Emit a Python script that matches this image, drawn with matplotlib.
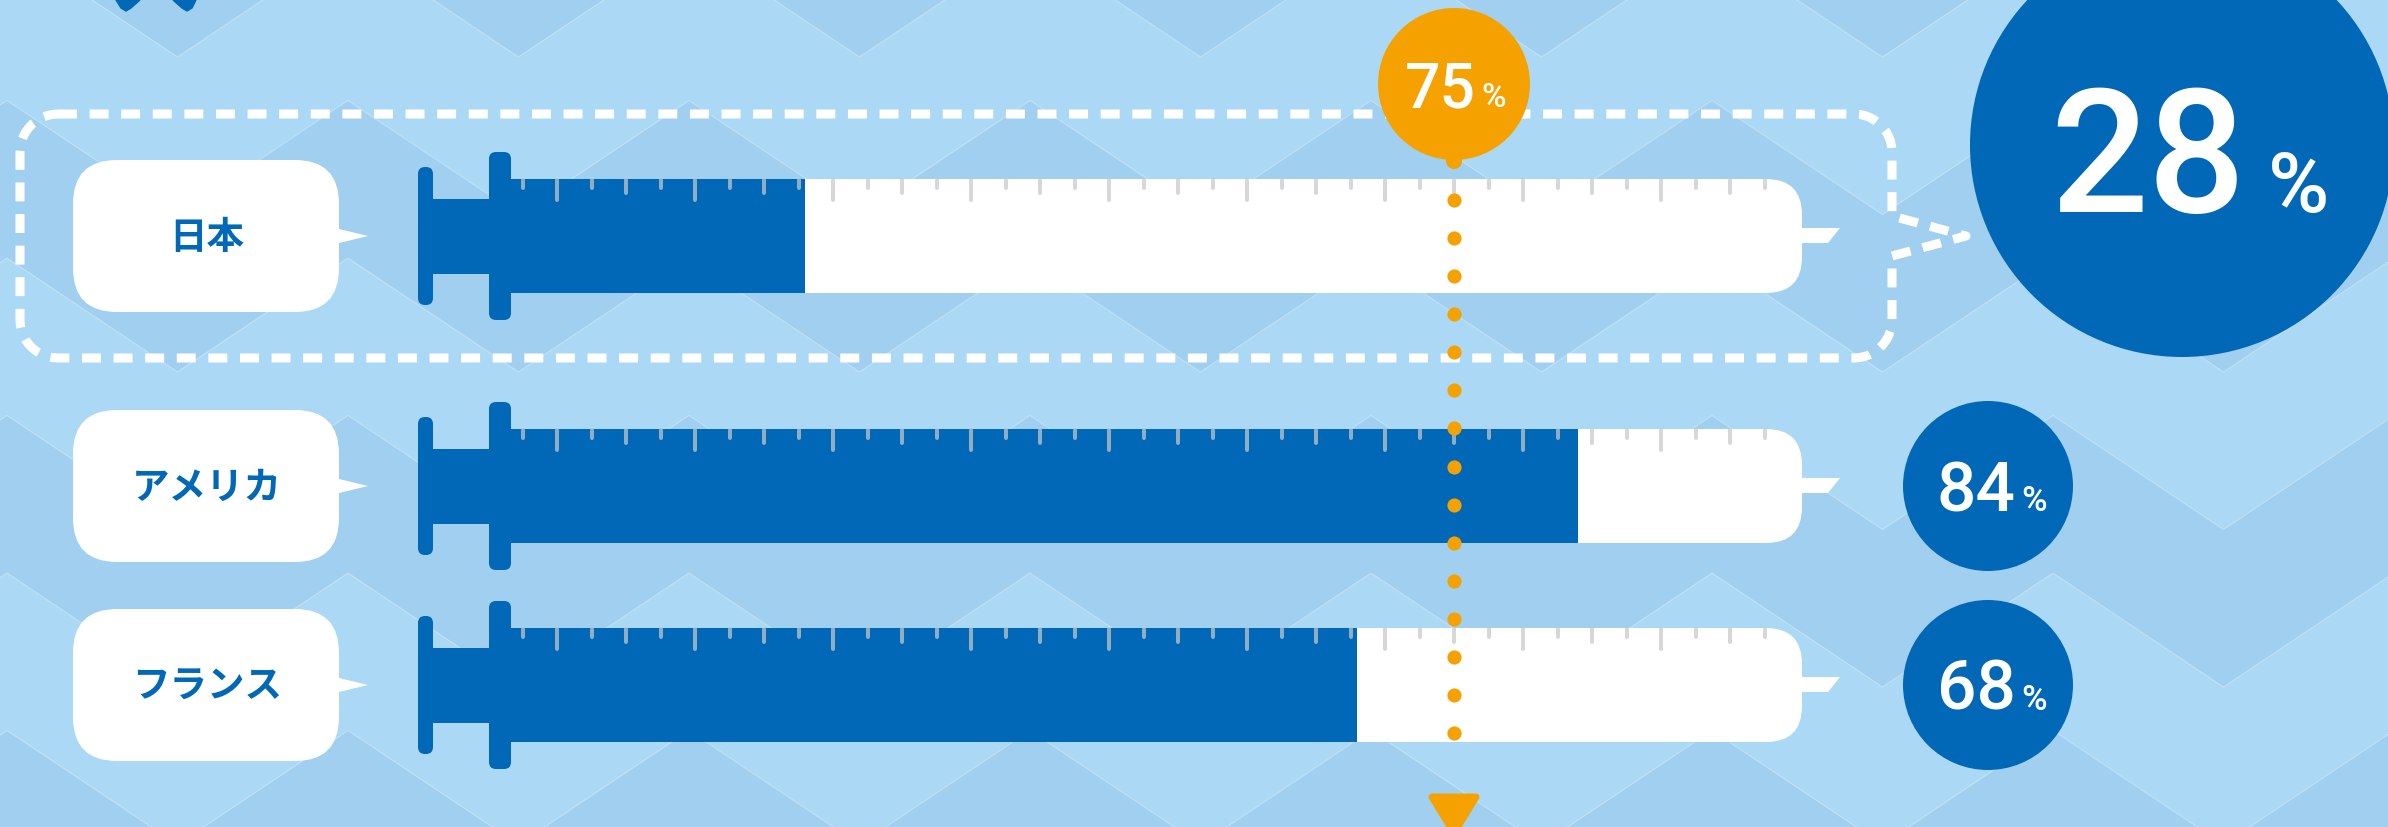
# import dependencies
import numpy as np
import matplotlib

matplotlib.use("Agg")
import matplotlib.pyplot as plt
from matplotlib.patches import FancyBboxPatch, Circle, Polygon, Rectangle

# data
countries = ["日本", "アメリカ", "フランス"]
rates = [28, 84, 68]
target = 75
highlight = "日本"
scale_ticks = np.arange(7.5, 100, 2.5)

# canvas and colours
W, H = 2388, 827
BLUE = "#0068B7"
ORANGE = "#F5A200"
LIGHT = "#ABD8F4"
DARK = "#A1CFEF"
JP = ["Noto Sans CJK JP", "DejaVu Sans"]
NUM = ["Roboto", "DejaVu Sans"]

# pixel position of 0% and pixels per percent on the syringe scale
X0 = 419.0
PX_PER_PCT = 13.8


def px(v):
    return X0 + PX_PER_PCT * v


row_y = [236, 486, 685]

fig = plt.figure(figsize=(W / 100, H / 100), dpi=100, facecolor=LIGHT)
ax = fig.add_axes([0, 0, 1, 1])
ax.set_xlim(0, W)
ax.set_ylim(H, 0)
ax.axis("off")

# second axes in percent units for the data marks
ax2 = fig.add_axes([0, 0, 1, 1], zorder=5)
ax2.set_xlim(-X0 / PX_PER_PCT, (W - X0) / PX_PER_PCT)
ax2.set_ylim(H, 0)
ax2.axis("off")
ax2.patch.set_alpha(0)

# background zigzag bands
m = np.arange(-2, 17)
xs = 7 + 170.5 * m
zig = np.where(m % 2 == 0, 0.0, 114.0)
for k in range(-1, 7):
    y0 = -57 + 157.5 * k
    if k % 2 == 1:
        ax.fill_between(xs, y0 + zig, y0 + 157.5 + zig, color=DARK, lw=0, zorder=0)
    ax.plot(xs, y0 + zig, color="white", alpha=0.3, lw=0.8, zorder=0.5)

# bits of a cut-off heading glyph at the top left
ax.add_patch(Polygon([(116, 0), (121, 8), (126, 11), (131, 8), (140, 0)], color=BLUE, zorder=1))
ax.add_patch(Polygon([(173, 0), (182, 8), (187, 11), (192, 8), (196, 0)], color=BLUE, zorder=1))


# dashed highlight box with a pointer to the big circle
def arc(cx, cy, r, a0, a1):
    a = np.radians(np.linspace(a0, a1, 12))
    return list(zip(cx + r * np.cos(a), cy + r * np.sin(a)))


L, R, T, B, RAD = 20, 1892, 114, 358, 38
pts = [(L + RAD, T), (R - RAD, T)]
pts += arc(R - RAD, T + RAD, RAD, 270, 360)
pts += [(R, 216), (1966, 236), (R, 256)]
pts += arc(R - RAD, B - RAD, RAD, 0, 90)
pts += arc(L + RAD, B - RAD, RAD, 90, 180)
pts += arc(L + RAD, T + RAD, RAD, 180, 270)
bx, by = zip(*pts)
ax.plot(bx, by, color="white", lw=6.5, linestyle=(0, (2.1, 1.4)),
        dash_capstyle="butt", solid_joinstyle="round", zorder=2)

for name, rate, cy in zip(countries, rates, row_y):
    # speech bubble with country name
    ax.add_patch(FancyBboxPatch((73, cy - 76), 266, 152, boxstyle="round,pad=0,rounding_size=44",
                                fc="white", ec="none", zorder=3))
    ax.add_patch(Polygon([(335, cy - 8), (368, cy), (335, cy + 8)], fc="white", ec="none", zorder=3))
    ax.text(207, cy + 1, name, ha="center", va="center", fontsize=27, fontweight="bold",
            color=BLUE, family=JP, zorder=4)

    # syringe barrel and needle
    ax.add_patch(FancyBboxPatch((495, cy - 57), px(100) + 3 - 495, 114,
                                boxstyle="round,pad=0,rounding_size=36", fc="white", ec="none", zorder=2.8))
    nx = px(100) + 3
    ax.add_patch(Polygon([(nx - 8, cy - 8), (nx + 38, cy - 8), (nx + 26, cy + 7), (nx - 8, cy + 7)],
                         fc="white", ec="none", zorder=2.7))
    # plunger
    ax.add_patch(FancyBboxPatch((418, cy - 69), 15, 138, boxstyle="round,pad=0,rounding_size=7",
                                fc=BLUE, ec="none", zorder=3))
    ax.add_patch(Rectangle((425, cy - 37), 70, 75, fc=BLUE, ec="none", zorder=3))
    ax.add_patch(FancyBboxPatch((489, cy - 84), 22, 168, boxstyle="round,pad=0,rounding_size=7",
                                fc=BLUE, ec="none", zorder=3))

    # filled part of the syringe
    start = (509 - X0) / PX_PER_PCT
    ax2.barh(cy, rate - start, left=start, height=114, color=BLUE, lw=0, zorder=1)

    # scale ticks
    top = cy - 57
    lens = np.where(scale_ticks % 10 == 0, 23, np.where(scale_ticks % 5 == 0, 16, 11))
    tl = ax2.vlines(scale_ticks, top + 1, top + lens - 2, color="#C8C8C8", alpha=0.72,
                    lw=2.9, zorder=2)
    tl.set_capstyle("round")

    # value circles
    if name == highlight:
        ax.add_patch(Circle((2182, 145), 212, fc=BLUE, ec="none", zorder=3))
        ax.text(2246, 212, str(rate), ha="right", va="baseline", fontsize=124, color="white",
                family=NUM, fontweight="medium", zorder=4)
        ax.text(2268, 212, "%", ha="left", va="baseline", fontsize=60, color="white",
                family=NUM, fontweight="medium", zorder=4)
    else:
        ax.add_patch(Circle((1988, cy), 85, fc=BLUE, ec="none", zorder=3))
        ax.text(2016, cy + 25, str(rate), ha="right", va="baseline", fontsize=50, color="white",
                family=NUM, fontweight="medium", zorder=4)
        ax.text(2021, cy + 25, "%", ha="left", va="baseline", fontsize=25, color="white",
                family=NUM, fontweight="medium", zorder=4)

# target marker: orange circle, dotted line and arrow head
tx = px(target)
ax.add_patch(Circle((tx, 84), 76, fc=ORANGE, ec="none", zorder=3))
ax.add_patch(Circle((tx, 161), 8, fc=ORANGE, ec="none", zorder=3))
ax.text(tx + 22, 107, str(target), ha="right", va="baseline", fontsize=45, color="white",
        family=NUM, fontweight="medium", zorder=4)
ax.text(tx + 27, 107, "%", ha="left", va="baseline", fontsize=24, color="white",
        family=NUM, fontweight="medium", zorder=4)
dots_y = np.linspace(200, 733, 15)
ax2.plot(np.full(len(dots_y), target), dots_y, "o", ms=10.2, color=ORANGE, mec="none", zorder=3)
ax.add_patch(Polygon([(tx - 22, 797), (tx + 22, 797), (tx, 833)], fc=ORANGE, ec=ORANGE,
                     lw=5, joinstyle="round", zorder=3))

fig.savefig("out.png", dpi=100, facecolor=LIGHT)
